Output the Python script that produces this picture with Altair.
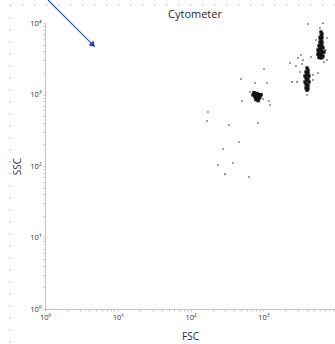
import altair as alt
import pandas as pd

# ---- data ----
sparse_fsc = [4100, 6590, 2320, 3280, 1020, 492, 767, 1120, 2470, 2900, 655, 508, 988, 1194, 1233,
              173, 168, 337, 843, 462, 279, 382, 238, 297, 634, 4800, 5620, 7480, 6800, 3500, 3180,
              4800, 3970, 4100, 4510, 2990, 3390, 2800, 7240, 5280, 7480, 5990]
sparse_ssc = [9680, 9900, 2760, 3570, 2275, 1650, 1450, 1450, 1500, 1500, 1084, 811, 865, 811, 713,
              569, 426, 375, 399, 217, 173, 110, 103, 77, 70, 1875, 2000, 3040, 2850, 3040, 2065,
              1595, 984, 1156, 3345, 3240, 2670, 2505, 4190, 5785, 6170, 8510]

dense_fsc = [767, 817, 871, 719, 790, 845, 900, 767, 817, 871, 790, 845, 740, 930,
             3970, 4100, 3850, 4100, 3970, 3730, 4230, 3850, 4100, 3970, 3730, 4230, 3850, 4100,
             3970, 3850, 4100, 3970,
             6180, 6380, 6180, 6380, 5990, 6180, 6380, 5990, 6180, 5800, 6380, 5990, 6590, 5620,
             6180, 5800, 6380, 6800, 5620, 6180, 5990, 6590, 5800, 6380, 6180]
dense_ssc = [1035, 1035, 1000, 984, 970, 955, 930, 923, 900, 880, 850, 820, 1060, 990,
             2350, 2200, 2065, 2000, 1900, 1815, 1815, 1700, 1650, 1595, 1500, 1500, 1403, 1350,
             1300, 1233, 1200, 1150,
             7480, 7000, 6580, 6200, 6200, 5785, 5400, 5400, 5085, 4800, 4800, 4470, 4470, 4200,
             4200, 3930, 3930, 3930, 3650, 3650, 3455, 3455, 3300, 3300, 3240]

arrow_fsc = [1.10, 4.45]
arrow_ssc = [20980, 5050]
arrow_head_fsc = [4.56]
arrow_head_ssc = [4920]

tick_values = [1, 2, 3, 4, 5, 6, 7, 8, 9,
               10, 20, 30, 40, 50, 60, 70, 80, 90,
               100, 200, 300, 400, 500, 600, 700, 800, 900,
               1000, 2000, 3000, 4000, 5000, 6000, 7000, 8000, 9000, 10000]
label_expr = ("datum.value==1?'10⁰':datum.value==10?'10¹':datum.value==100?'10²':"
              "datum.value==1000?'10³':datum.value==10000?'10⁴':''")

W, H = 290, 286
FONT = "Open Sans"
AX = "#c4c4c4"

xscale = alt.Scale(type="log", domain=[1, 9630], nice=False)
yscale = alt.Scale(type="log", domain=[1, 10000], nice=False)

xaxis = alt.Axis(values=tick_values, labelExpr=label_expr, grid=False, tickSize=2,
                 domainColor=AX, tickColor=AX, labelFontSize=7.5, labelFont=FONT,
                 labelColor="#333333", labelFlush=False, labelOverlap=False, labelPadding=2,
                 title="FSC", titleFont=FONT, titleFontSize=10, titleFontWeight="normal",
                 titleColor="#1c2a50", titlePadding=11)
yaxis = alt.Axis(values=tick_values, labelExpr=label_expr, grid=False, tickSize=2,
                 domainColor=AX, tickColor=AX, labelFontSize=7.5, labelFont=FONT,
                 labelColor="#333333", labelFlush=False, labelOverlap=False, labelPadding=2,
                 title="SSC", titleFont=FONT, titleFontSize=10, titleFontWeight="normal",
                 titleColor="#1c2a50", titlePadding=7)

sparse_df = pd.DataFrame({"fsc": sparse_fsc, "ssc": sparse_ssc})
dense_df = pd.DataFrame({"fsc": dense_fsc, "ssc": dense_ssc})
arrow_df = pd.DataFrame({"fsc": arrow_fsc, "ssc": arrow_ssc})
head_df = pd.DataFrame({"fsc": arrow_head_fsc, "ssc": arrow_head_ssc})
one = pd.DataFrame({"a": [0]})

base_points = alt.Chart(sparse_df).mark_square(size=2.5, color="#555555", opacity=0.9).encode(
    x=alt.X("fsc:Q", scale=xscale, axis=xaxis),
    y=alt.Y("ssc:Q", scale=yscale, axis=yaxis),
)
dense_points = alt.Chart(dense_df).mark_square(size=11, color="#111111", opacity=1).encode(
    x=alt.X("fsc:Q", scale=xscale),
    y=alt.Y("ssc:Q", scale=yscale),
)
arrow_line = alt.Chart(arrow_df).mark_line(color="#1f4fc0", strokeWidth=1.1).encode(
    x=alt.X("fsc:Q", scale=xscale),
    y=alt.Y("ssc:Q", scale=yscale),
)
arrow_head = alt.Chart(head_df).mark_point(shape="triangle-up", filled=True, size=45,
                                           color="#1a44b0", angle=135, opacity=1).encode(
    x=alt.X("fsc:Q", scale=xscale),
    y=alt.Y("ssc:Q", scale=yscale),
)
top_dots = alt.Chart(one).mark_rule(color="#cccccc", strokeWidth=1.5, strokeDash=[1.5, 10.5]).encode(
    x=alt.value(-35), x2=alt.value(300), y=alt.value(-18)
)
left_dots = alt.Chart(one).mark_rule(color="#cccccc", strokeWidth=1.5, strokeDash=[1.5, 10.5]).encode(
    x=alt.value(-35), y=alt.value(-18), y2=alt.value(330)
)
title = alt.Chart(one).mark_text(text="Cytometer", font=FONT, fontSize=11, color="#2a2a2a",
                                 align="center", baseline="middle").encode(
    x=alt.value(150), y=alt.value(-8)
)

chart = alt.layer(top_dots, left_dots, base_points, dense_points, arrow_line, arrow_head, title).properties(
    width=W, height=H,
    background="white",
    autosize=alt.AutoSizeParams(type="none"),
    padding={"left": 45, "top": 23, "right": 0, "bottom": 35},
).configure_view(stroke=None)

chart.save("out.html", embed_options={"renderer": "svg", "actions": False})
